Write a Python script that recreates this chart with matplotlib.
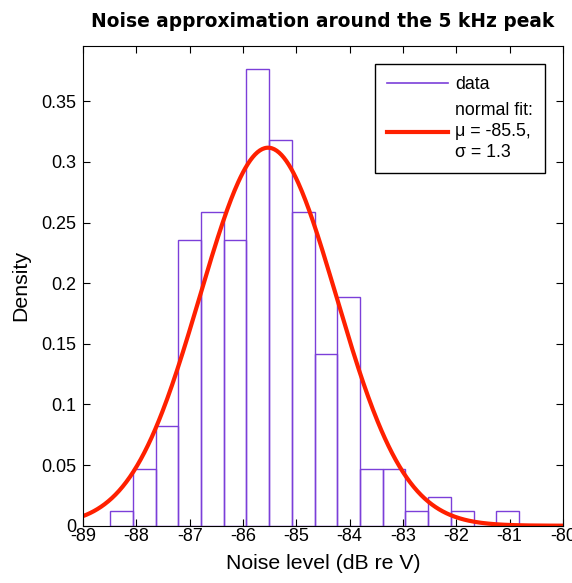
import numpy as np
import matplotlib
matplotlib.use("Agg")
import matplotlib.pyplot as plt
from matplotlib.lines import Line2D

# histogram (density per bin)
bin_start = -88.49
bin_width = 0.4258
density = [0.0118, 0.0471, 0.0824, 0.2355, 0.2590, 0.2355, 0.3767, 0.3178,
           0.2590, 0.1413, 0.1884, 0.0471, 0.0471, 0.0118, 0.0235, 0.0118,
           0.0, 0.0118]

# normal fit
mu = -85.53
sigma = 1.28
fit_label = "normal fit:\nμ = -85.5,\nσ = 1.3"

plt.rcParams['font.family'] = ['Liberation Sans', 'DejaVu Sans']
plt.rcParams['axes.unicode_minus'] = False

purple = '#7B3FD9'
red = '#FF2000'

fig = plt.figure(figsize=(5.72, 5.83), dpi=100)
ax = fig.add_axes([83/572, 1 - 525.7/583, 480/572, (525.7-46)/583])

edges = bin_start + bin_width*np.arange(len(density)+1)
ax.hist(edges[:-1], bins=edges, weights=density, histtype='bar',
        facecolor='none', edgecolor=purple, linewidth=1.0)

xs = np.linspace(-89, -80, 400)
pdf = np.exp(-0.5*((xs-mu)/sigma)**2)/(sigma*np.sqrt(2*np.pi))
ax.plot(xs, pdf, color=red, linewidth=3)

ax.set_xlim(-89, -80)
ax.set_ylim(0, 1.05*max(density))
ax.set_xticks(np.arange(-89, -79, 1))
ax.set_yticks(np.arange(0, 0.36, 0.05))
ax.set_yticklabels(['0', '0.05', '0.1', '0.15', '0.2', '0.25', '0.3', '0.35'])
ax.tick_params(direction='in', top=True, right=True, length=5, labelsize=13)
ax.tick_params(axis='x', pad=2)
ax.tick_params(axis='y', pad=5)

ax.set_xlabel('Noise level (dB re V)', fontsize=15.3, labelpad=6)
ax.set_ylabel('Density', fontsize=15.3, labelpad=8)
ax.set_title('Noise approximation around the 5 kHz peak', fontsize=13.4,
             fontweight='bold', family='DejaVu Sans', pad=14)

handles = [Line2D([], [], color=purple, linewidth=1.2),
           Line2D([], [], color=red, linewidth=3)]
leg = ax.legend(handles, ['data', fit_label], loc='upper right', fontsize=12.8,
                fancybox=False, edgecolor='black', framealpha=1,
                borderaxespad=1.0, handlelength=3.4, handletextpad=0.4,
                labelspacing=0.5, borderpad=0.7)
for t in leg.get_texts():
    t.set_linespacing(1.3)
leg.get_frame().set_linewidth(1.0)

fig.savefig('out.png', dpi=100)
